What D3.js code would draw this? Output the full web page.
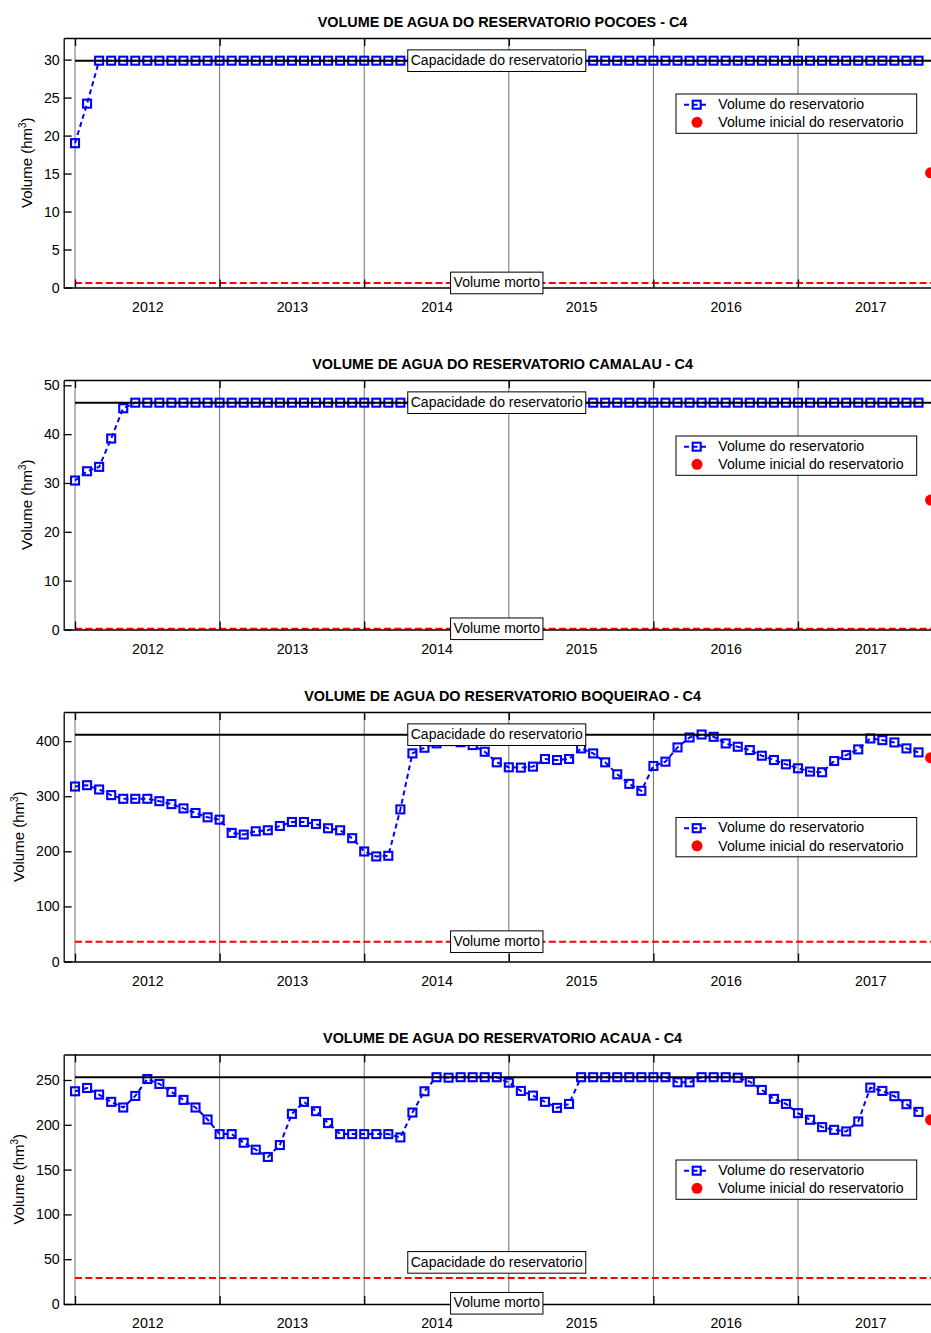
<!DOCTYPE html>
<html>
<head>
<meta charset="utf-8">
<script src="https://d3js.org/d3.v7.min.js"></script>
<style>
  body { margin: 0; background: #ffffff; }
  #my_dataviz svg { display: block; }
</style>
</head>
<body>
<div id="my_dataviz"></div>
<script>
// monthly volumes (hm3), month 0 = Jan 2012, month 70 = Nov 2017
var pocoes = [19.0, 24.2,
  29.86, 29.86, 29.86, 29.86, 29.86, 29.86, 29.86, 29.86, 29.86, 29.86,
  29.86, 29.86, 29.86, 29.86, 29.86, 29.86, 29.86, 29.86, 29.86, 29.86,
  29.86, 29.86, 29.86, 29.86, 29.86, 29.86, 29.86, 29.86, 29.86, 29.86,
  29.86, 29.86, 29.86, 29.86, 29.86, 29.86, 29.86, 29.86, 29.86, 29.86,
  29.86, 29.86, 29.86, 29.86, 29.86, 29.86, 29.86, 29.86, 29.86, 29.86,
  29.86, 29.86, 29.86, 29.86, 29.86, 29.86, 29.86, 29.86, 29.86, 29.86,
  29.86, 29.86, 29.86, 29.86, 29.86, 29.86, 29.86, 29.86, 29.86];

var camalau = [30.5, 32.4, 33.3, 39.1, 45.3,
  46.44, 46.44, 46.44, 46.44, 46.44, 46.44, 46.44, 46.44, 46.44, 46.44,
  46.44, 46.44, 46.44, 46.44, 46.44, 46.44, 46.44, 46.44, 46.44, 46.44,
  46.44, 46.44, 46.44, 46.44, 46.44, 46.44, 46.44, 46.44, 46.44, 46.44,
  46.44, 46.44, 46.44, 46.44, 46.44, 46.44, 46.44, 46.44, 46.44, 46.44,
  46.44, 46.44, 46.44, 46.44, 46.44, 46.44, 46.44, 46.44, 46.44, 46.44,
  46.44, 46.44, 46.44, 46.44, 46.44, 46.44, 46.44, 46.44, 46.44, 46.44,
  46.44, 46.44, 46.44, 46.44, 46.44, 46.44];

var boqueirao = [317.6, 320, 312.2, 302, 295.3, 295.3, 295.3, 291, 285.7, 277.9,
  269.5, 261.7, 257.4, 233.4, 230.4, 236.4, 238.2, 246, 253.2, 253.2,
  249.6, 241.8, 238.2, 223.8, 199.7, 190.7, 191.9, 276.1, 377.7, 388,
  396, 400, 398, 392.8, 380.7, 361.5, 352.5, 351.9, 353.7, 367.5,
  365.7, 367.5, 386.8, 377.7, 361.5, 339.8, 322.4, 309.8, 354.9, 362.7,
  388.6, 406.6, 412, 407.8, 395.8, 389.8, 383.8, 373.5, 365.7, 357.9,
  350.7, 344.7, 343.5, 363.9, 374.7, 385, 404.8, 401.8, 397.6, 386.8,
  379.6];

var acaua = [237.4, 241.1, 233.7, 225.6, 219.3, 232.2, 251.1, 245.6, 236.7, 227.8,
  219.3, 205.9, 189.6, 189.6, 180, 172.2, 164.1, 177.4, 212.2, 225.6,
  215.2, 201.9, 189.6, 189.6, 189.6, 189.6, 189.6, 185.9, 213.7, 237.4,
  253.1, 252.6, 253.1, 253.1, 253.1, 253.1, 247, 237.8, 232.6, 225.6,
  218.9, 223.3, 253.1, 253.1, 253.1, 253.1, 253.1, 253.1, 253.1, 253.1,
  247.4, 247.4, 253.1, 253.1, 253.1, 252.6, 248.1, 238.9, 228.9, 223.3,
  213, 205.6, 197.4, 194.4, 192.6, 203.7, 241.5, 237.8, 231.9, 223,
  214.4];

var titles = ["VOLUME DE AGUA DO RESERVATORIO POCOES - C4",
  "VOLUME DE AGUA DO RESERVATORIO CAMALAU - C4",
  "VOLUME DE AGUA DO RESERVATORIO BOQUEIRAO - C4",
  "VOLUME DE AGUA DO RESERVATORIO ACAUA - C4"];
var capacity = [29.86, 46.44, 411.69, 253.14];
var deadVolume = [0.6, 0.15, 36, 28.9];
var initialVolume = [15.1, 26.5, 370, 205.6];
var yTicks = [[0, 5, 10, 15, 20, 25, 30],
  [0, 10, 20, 30, 40, 50],
  [0, 100, 200, 300, 400],
  [0, 50, 100, 150, 200, 250]];
// where the two text boxes sit (the last chart reuses the CAMALAU values)
var capLabelAt = [29.86, 46.44, 411.69, 46.44];
var mortoLabelAt = [0.6, 0.15, 36, 0.8];

var yearTicks = [6, 18, 30, 42, 54, 66];
var yearLabels = ["2012", "2013", "2014", "2015", "2016", "2017"];
var gridTicks = [0, 12, 24, 36, 48, 60];
var labelMonth = 35;
var initialMonth = 71;

var series = [pocoes, camalau, boqueirao, acaua];

// layout
var width = 931, height = 1333;
var left = 63.7, right = 942.6;
var tops = [38, 380, 712, 1054.5];
var plotH = 249.5;
var legendTop = [56, 56, 105.5, 105.5];
var font = "'Liberation Sans', Arial, Helvetica, sans-serif";

var svg = d3.select("#my_dataviz")
  .append("svg")
    .attr("width", width)
    .attr("height", height)
    .style("font-family", font);

svg.append("rect")
  .attr("width", width)
  .attr("height", height)
  .attr("fill", "#ffffff");

var x = d3.scaleLinear()
  .domain([-0.94, 72])
  .range([left, right]);

var defs = svg.append("defs");

function textBox(g, str, cx, cy) {
  var box = g.append("g");
  var r = box.append("rect");
  var t = box.append("text")
    .attr("x", cx)
    .attr("y", cy)
    .attr("dy", "0.3em")
    .attr("text-anchor", "middle")
    .attr("font-size", 14)
    .attr("fill", "#000")
    .text(str);
  var w = t.node().getComputedTextLength();
  r.attr("x", cx - w / 2 - 3)
    .attr("y", cy - 10.8)
    .attr("width", w + 6)
    .attr("height", 21.6)
    .attr("fill", "#ffffff")
    .attr("stroke", "#000")
    .attr("stroke-width", 1);
}

series.forEach(function(data, k) {

  var g = svg.append("g")
    .attr("transform", "translate(0," + tops[k] + ")");

  var y = d3.scaleLinear()
    .domain([0, 1.1 * capacity[k]])
    .range([plotH, 0]);

  defs.append("clipPath")
      .attr("id", "clip" + k)
    .append("rect")
      .attr("x", left)
      .attr("y", 0)
      .attr("width", right - left)
      .attr("height", plotH);

  var plot = g.append("g").attr("clip-path", "url(#clip" + k + ")");

  // vertical grid at the start of every year
  plot.selectAll(".grid")
    .data(gridTicks)
    .enter()
    .append("line")
      .attr("x1", function(d) { return x(d); })
      .attr("x2", function(d) { return x(d); })
      .attr("y1", 0)
      .attr("y2", plotH)
      .attr("stroke", "#6e6e6e")
      .attr("stroke-width", 1);

  // reservoir volume
  plot.append("path")
    .datum(data)
    .attr("d", d3.line()
      .x(function(d, i) { return x(i); })
      .y(function(d) { return y(d); }))
    .attr("fill", "none")
    .attr("stroke", "#0000ff")
    .attr("stroke-width", 2)
    .attr("stroke-dasharray", "5,3.5");

  plot.selectAll(".sq")
    .data(data)
    .enter()
    .append("rect")
      .attr("x", function(d, i) { return x(i) - 4; })
      .attr("y", function(d) { return y(d) - 4; })
      .attr("width", 8)
      .attr("height", 8)
      .attr("fill", "none")
      .attr("stroke", "#0000ff")
      .attr("stroke-width", 2.1);

  // capacity and dead volume
  plot.append("line")
    .attr("x1", x(0)).attr("x2", x(72))
    .attr("y1", y(capacity[k])).attr("y2", y(capacity[k]))
    .attr("stroke", "#000")
    .attr("stroke-width", 2);

  plot.append("line")
    .attr("x1", x(0)).attr("x2", x(72))
    .attr("y1", y(deadVolume[k])).attr("y2", y(deadVolume[k]))
    .attr("stroke", "#ff0000")
    .attr("stroke-width", 2)
    .attr("stroke-dasharray", "7,3.3");

  // initial volume
  plot.append("circle")
    .attr("cx", x(initialMonth))
    .attr("cy", y(initialVolume[k]))
    .attr("r", 5.5)
    .attr("fill", "#ff0000");

  // axes
  var yAxis = g.append("g")
    .attr("transform", "translate(" + left + ",0)")
    .call(d3.axisLeft(y).tickValues(yTicks[k]).tickSizeInner(-8).tickSizeOuter(0).tickPadding(4));

  var xAxis = g.append("g")
    .attr("transform", "translate(0," + plotH + ")")
    .call(d3.axisBottom(x).tickValues(gridTicks).tickSizeInner(-8).tickSizeOuter(0).tickFormat(""));

  var xLabels = g.append("g")
    .attr("transform", "translate(0," + plotH + ")")
    .call(d3.axisBottom(x).tickValues(yearTicks).tickSize(0).tickPadding(14)
      .tickFormat(function(d, i) { return yearLabels[i]; }));
  xLabels.select(".domain").remove();

  var topAxis = g.append("g")
    .call(d3.axisTop(x).tickValues(gridTicks).tickSizeInner(-8).tickSizeOuter(0).tickFormat(""));

  g.selectAll(".domain, .tick line")
    .attr("stroke", "#000")
    .attr("stroke-width", 1.3);
  g.selectAll(".tick text")
    .attr("fill", "#000")
    .attr("font-size", 14.2)
    .attr("font-family", font);

  // y label, left of the widest tick label
  var maxW = d3.max(yAxis.selectAll(".tick text").nodes(), function(n) { return n.getComputedTextLength(); });
  var yl = g.append("text")
    .attr("transform", "translate(" + (left - 4 - maxW - 12) + "," + (plotH / 2) + ") rotate(-90)")
    .attr("text-anchor", "middle")
    .attr("font-size", 15)
    .attr("fill", "#000");
  yl.append("tspan").text("Volume (hm");
  yl.append("tspan").attr("dy", -6).attr("font-size", 10).text("3");
  yl.append("tspan").attr("dy", 6).text(")");

  // title
  g.append("text")
    .attr("x", (left + right) / 2 - 0.6)
    .attr("y", -11.5)
    .attr("text-anchor", "middle")
    .attr("font-size", 14.4)
    .attr("font-weight", "bold")
    .attr("fill", "#000")
    .text(titles[k]);

  // text boxes
  textBox(g, "Capacidade do reservatorio", x(labelMonth), y(capLabelAt[k]));
  textBox(g, "Volume morto", x(labelMonth), y(mortoLabelAt[k]));

  // legend
  var leg = g.append("g")
    .attr("transform", "translate(676," + legendTop[k] + ")");
  leg.append("rect")
    .attr("width", 240.7)
    .attr("height", 39.3)
    .attr("fill", "#ffffff")
    .attr("stroke", "#000")
    .attr("stroke-width", 1);
  leg.append("line")
    .attr("x1", 8).attr("x2", 32)
    .attr("y1", 10.7).attr("y2", 10.7)
    .attr("stroke", "#0000ff")
    .attr("stroke-width", 2)
    .attr("stroke-dasharray", "5,3.5");
  leg.append("rect")
    .attr("x", 16.7).attr("y", 6.7)
    .attr("width", 8).attr("height", 8)
    .attr("fill", "none")
    .attr("stroke", "#0000ff")
    .attr("stroke-width", 2.1);
  leg.append("circle")
    .attr("cx", 21).attr("cy", 28.3)
    .attr("r", 5.5)
    .attr("fill", "#ff0000");
  leg.append("text")
    .attr("x", 42.3).attr("y", 14.7)
    .attr("font-size", 14.2).attr("fill", "#000")
    .text("Volume do reservatorio");
  leg.append("text")
    .attr("x", 42.3).attr("y", 33)
    .attr("font-size", 14.2).attr("fill", "#000")
    .text("Volume inicial do reservatorio");
});
</script>
</body>
</html>
